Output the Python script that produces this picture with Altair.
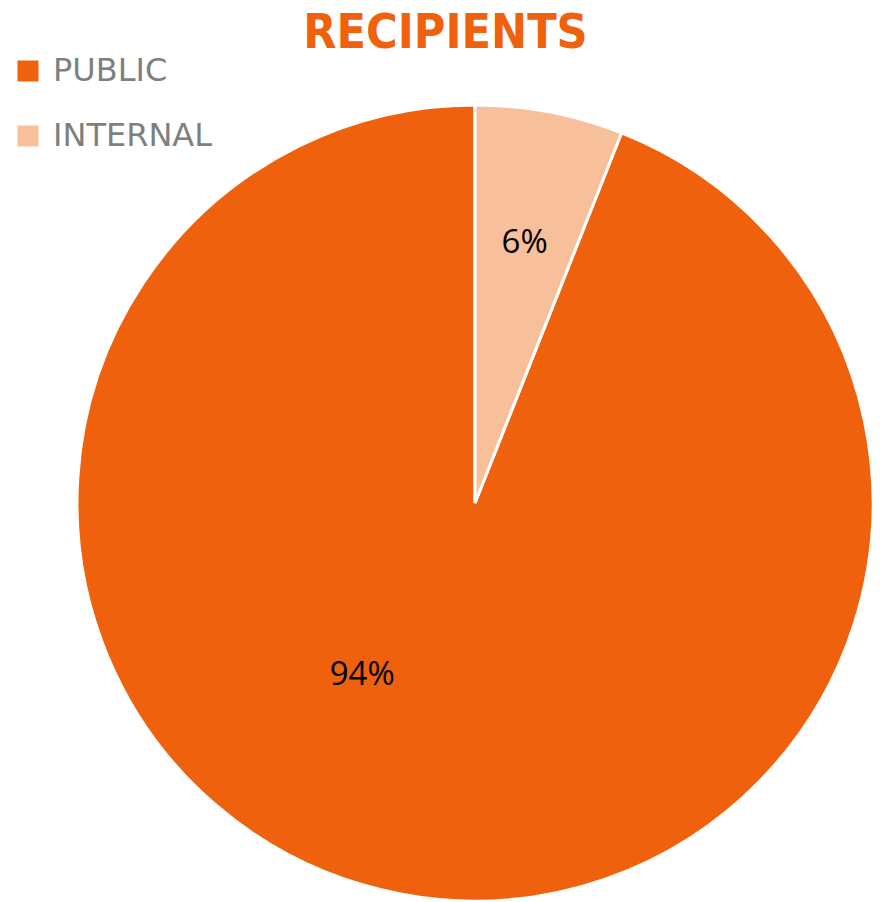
import altair as alt
import pandas as pd

categories = ["PUBLIC", "INTERNAL"]
values = [94, 6]
colors = ["#EF610C", "#F8BF9B"]
title_text = "RECIPIENTS"

df = pd.DataFrame({"category": categories, "value": values})

cx, cy, R = 467, 429, 398

theta = alt.Theta("value:Q", stack=True)
order = alt.Order("category:N", sort="ascending")

pie = alt.Chart(df).mark_arc(outerRadius=R, stroke="white", strokeWidth=3).encode(
    theta=theta,
    order=order,
    color=alt.Color(
        "category:N",
        scale=alt.Scale(domain=categories, range=colors),
        legend=alt.Legend(
            title=None,
            orient="none",
            legendX=4,
            legendY=-19,
            symbolType="square",
            symbolSize=440,
            symbolStrokeWidth=0,
            labelFontSize=32,
            labelFont="DejaVu Sans",
            labelColor="#7F7F7F",
            labelOffset=9,
            rowPadding=33,
            padding=0,
        ),
    ),
    x=alt.value(cx),
    y=alt.value(cy),
)

stacked = alt.Chart(df).transform_calculate(label="datum.value + '%'").transform_window(
    cum="sum(value)", sort=[alt.SortField("category", order="ascending")]
).transform_joinaggregate(total="sum(value)").transform_calculate(
    mid="(datum.cum - datum.value/2) / datum.total * 2 * PI"
)

t1 = stacked.transform_filter(alt.datum.category == "INTERNAL").mark_text(
    fontSize=33, font="Open Sans", color="black", align="center", baseline="middle"
).encode(
    theta=alt.Theta("mid:Q", scale=None),
    radius=alt.value(265),
    text="label:N",
    x=alt.value(cx), y=alt.value(cy),
)
t2 = stacked.transform_filter(alt.datum.category == "PUBLIC").mark_text(
    fontSize=33, font="Open Sans", color="black", align="center", baseline="middle",
    dx=-74, dy=-31
).encode(
    theta=alt.Theta("mid:Q", scale=None),
    radius=alt.value(207),
    text="label:N",
    x=alt.value(cx), y=alt.value(cy),
)

chart = alt.layer(pie, t1, t2).properties(
    width=867,
    height=828,
    padding={"left": 0, "top": 66, "right": 0, "bottom": 0},
    autosize=alt.AutoSizeParams(type="none"),
    title=alt.TitleParams(
        title_text,
        fontSize=48,
        font="DejaVu Sans Condensed",
        fontWeight="bold",
        color="#EF610C",
        anchor="middle",
        offset=3,
        dx=4,
        dy=6,
    ),
).configure_view(stroke=None)

chart.save("out.html", embed_options={"renderer": "svg", "actions": False})
